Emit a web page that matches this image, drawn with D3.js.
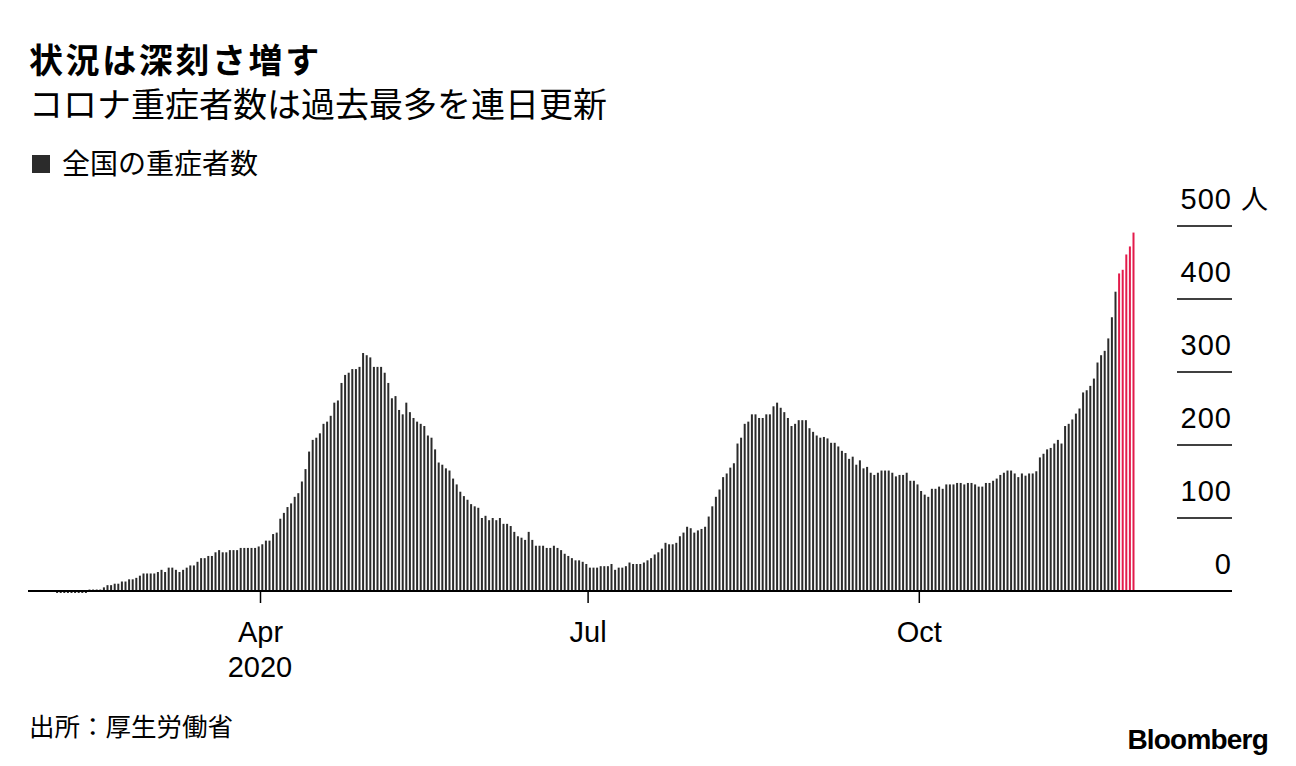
<!DOCTYPE html>
<html>
<head>
<meta charset="utf-8">
<script src="https://cdn.jsdelivr.net/npm/d3@7"></script>
<style>
body { margin: 0; background: #fff; }
text { font-family: "Liberation Sans", "Noto Sans CJK JP", sans-serif; fill: #000; }
.jp { font-family: "Noto Sans CJK JP", sans-serif; }
</style>
</head>
<body>
<svg id="chart"></svg>
<script>
var width = 1296, height = 766;

// 全国の重症者数, daily, starting Feb 5 2020
var firstDay = "2020-02-05";
var feb = [1,1,1,1,1,1,1,1,1, 2,2,2,2,5,8,8,10,10,13,13,16,16,18,21,24];
var mar = [24,24,24,26,29,26,32,32,29,26,29,32,35,35,40,45,45,48,48,53,56,53,53,56,56,56,59,59,59,59,59];
var apr = [61,64,69,69,78,80,99,107,115,120,129,134,150,167,191,207,210,216,229,232,240,258,261,285,296,299,304,304,307,326];
var may = [323,320,307,307,307,299,285,264,267,248,242,258,245,237,232,229,226,213,210,194,176,173,168,165,154,146,136,130,125,119,116];
var jun = [114,100,103,97,100,97,100,92,92,89,81,75,73,70,81,70,62,62,62,59,59,62,59,56,51,48,45,42,42,40];
var jul = [37,32,32,32,34,34,34,37,29,32,32,34,39,37,37,37,39,42,45,50,53,58,66,64,64,66,75,80,88,86,80];
var aug = [83,85,88,102,116,129,139,156,161,169,175,202,210,229,232,242,242,237,237,242,242,253,258,251,245,237,226,229,234,234,234];
var sep = [223,218,213,210,211,209,203,203,198,192,189,181,184,173,179,168,170,162,159,162,165,165,165,162,157,159,159,162,151,151];
var oct = [146,137,132,129,140,140,143,140,146,146,146,148,148,146,148,148,146,143,143,148,148,151,154,159,162,165,165,161,156,161,158];
var nov = [161,161,164,183,188,194,196,202,207,202,226,229,235,243,250,272,275,281,291,313,323,329,346,375,410,435,440,461,472,491];
var recordDays = 5;   // last days drawn in red (records)

var yTicks = [0, 100, 200, 300, 400, 500];
var monthTicks = ["2020-04-01", "2020-07-01", "2020-10-01"];
var monthLabels = ["Apr", "Jul", "Oct"];

var severe = feb.concat(mar, apr, may, jun, jul, aug, sep, oct, nov);
var start = new Date(firstDay + "T00:00:00Z");
var data = severe.map(function(v, i) { return {date: d3.utcDay.offset(start, i), v: v, i: i}; });

var svg = d3.select("#chart")
  .attr("width", width)
  .attr("height", height);

// titles
svg.append("text").attr("class", "jp")
  .attr("x", 29).attr("y", 73)
  .style("font-size", "34px").style("font-weight", "700")
  .style("letter-spacing", "2.6px")
  .text("状況は深刻さ増す");
svg.append("text").attr("class", "jp")
  .attr("x", 29).attr("y", 117)
  .style("font-size", "34px")
  .text("コロナ重症者数は過去最多を連日更新");

// legend
svg.append("rect").attr("x", 32).attr("y", 155).attr("width", 18).attr("height", 18).attr("fill", "#2b2b2b");
svg.append("text").attr("class", "jp")
  .attr("x", 62).attr("y", 174)
  .style("font-size", "28px")
  .text("全国の重症者数");

// scales
var x = d3.scaleUtc()
  .domain([Date.UTC(2020, 0, 28), Date.UTC(2020, 11, 27)])
  .range([29.6, 1232]);
var y = d3.scaleLinear().domain([0, 500]).range([591, 226]);

// bars (tiny early values poke just below the baseline, as in the original)
svg.append("g").selectAll("rect")
  .data(data)
  .enter().append("rect")
  .attr("x", function(d) { return x(d.date) - 2.3; })
  .attr("width", 2)
  .attr("y", function(d) { return y(d.v); })
  .attr("height", function(d) { return y(0) - y(d.v) + (d.v < 2 ? 2 : 0); })
  .attr("fill", function(d) { return d.i >= data.length - recordDays ? "#e31b4b" : "#2b2b2b"; });

// y gridlines + labels on the right
var yg = svg.append("g");
yg.selectAll("line")
  .data(yTicks.filter(function(t) { return t > 0; }))
  .enter().append("line")
  .attr("x1", 1177).attr("x2", 1232)
  .attr("y1", function(d) { return y(d); })
  .attr("y2", function(d) { return y(d); })
  .attr("stroke", "#000").attr("stroke-width", 1.5);
yg.selectAll("text")
  .data(yTicks)
  .enter().append("text")
  .attr("x", 1232)
  .attr("y", function(d) { return y(d) - 17; })
  .attr("text-anchor", "end")
  .style("font-size", "29px")
  .style("letter-spacing", "1px")
  .text(function(d) { return d; });
svg.append("text").attr("class", "jp")
  .attr("x", 1241).attr("y", y(500) - 17)
  .style("font-size", "27px")
  .text("人");

// baseline
svg.append("line")
  .attr("x1", 28).attr("x2", 1232)
  .attr("y1", y(0)).attr("y2", y(0))
  .attr("stroke", "#000").attr("stroke-width", 2);

// x axis
var xaxis = svg.append("g")
  .attr("transform", "translate(0," + y(0) + ")")
  .call(d3.axisBottom(x)
    .tickValues(monthTicks.map(function(m) { return new Date(m + "T00:00:00Z"); }))
    .tickSize(12)
    .tickFormat(function(d, i) { return monthLabels[i]; }));
xaxis.select(".domain").remove();
xaxis.selectAll("line").attr("stroke", "#000").attr("stroke-width", 1.5);
xaxis.selectAll("text")
  .attr("y", 51).attr("dy", 0)
  .attr("fill", "#000")
  .style("font-size", "29px")
  .style("font-family", "'Liberation Sans', sans-serif");
svg.append("text")
  .attr("x", x(new Date(monthTicks[0] + "T00:00:00Z")))
  .attr("y", 677)
  .attr("text-anchor", "middle")
  .style("font-size", "29px")
  .text("2020");

// source + logo
svg.append("text").attr("class", "jp")
  .attr("x", 29).attr("y", 736)
  .style("font-size", "25.5px")
  .text("出所：厚生労働省");
svg.append("text")
  .attr("x", 1268).attr("y", 749)
  .attr("text-anchor", "end")
  .style("font-size", "28px").style("font-weight", "700")
  .style("letter-spacing", "-0.8px")
  .text("Bloomberg");
</script>
</body>
</html>
